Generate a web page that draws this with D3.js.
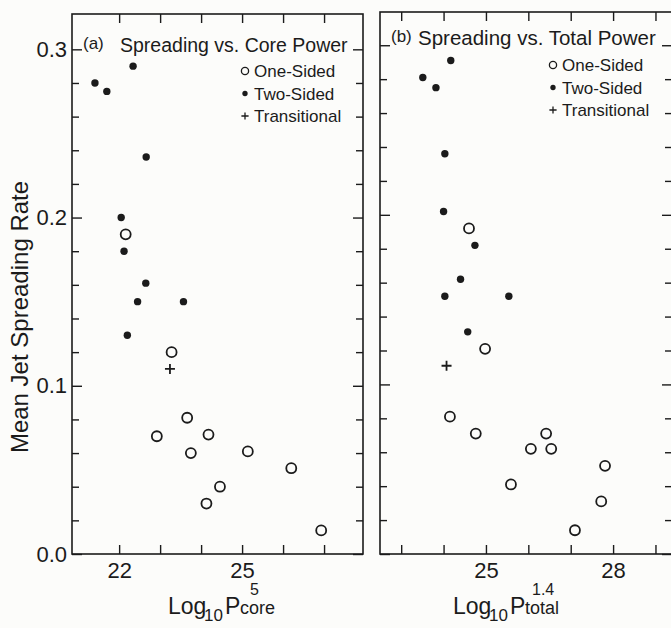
<!DOCTYPE html>
<html>
<head>
<meta charset="utf-8">
<script src="https://cdn.jsdelivr.net/npm/d3@7"></script>
<style>
  html, body { margin: 0; padding: 0; background: #fcfcfa; }
  svg { display: block; font-family: 'Liberation Sans', Arial, sans-serif; }
</style>
</head>
<body>
<div id="chart"></div>
<script>
// -----------------------------------------------------------------------------
// Mean jet spreading rate vs log power (two panels)
//  (a) vs core power   (b) vs total power
//  marker = jet type: one-sided (o), two-sided (•), transitional (+)
// -----------------------------------------------------------------------------

// datos: [log10 P, spreading rate]
const coreOneSided = [
  [22.16, 0.190], [23.28, 0.120], [22.92, 0.070], [23.66, 0.081],
  [23.75, 0.060], [24.18, 0.071], [24.13, 0.030], [24.46, 0.040],
  [25.14, 0.061], [26.20, 0.051], [26.93, 0.014]
];
const coreTwoSided = [
  [21.41, 0.280], [21.70, 0.275], [22.34, 0.290], [22.66, 0.236],
  [22.05, 0.200], [22.12, 0.180], [22.65, 0.161], [22.45, 0.150],
  [23.57, 0.150], [22.20, 0.130]
];
const coreTransitional = [[23.24, 0.110]];

const totalOneSided = [
  [24.60, 0.192], [24.98, 0.121], [24.15, 0.081], [24.76, 0.071],
  [26.06, 0.062], [26.42, 0.071], [26.54, 0.062], [25.59, 0.041],
  [27.81, 0.052], [27.72, 0.031], [27.10, 0.014]
];
const totalTwoSided = [
  [23.51, 0.281], [23.82, 0.275], [24.17, 0.291], [24.03, 0.236],
  [24.00, 0.202], [24.74, 0.182], [24.40, 0.162], [24.03, 0.152],
  [25.54, 0.152], [24.57, 0.131]
];
const totalTransitional = [[24.07, 0.111]];

// ticks
const yMajorTicks  = [0, 0.1, 0.2, 0.3];
const yTickLabels  = ['0.0', '0.1', '0.2', '0.3'];
const yMinorTicks  = [0.02, 0.04, 0.06, 0.08, 0.12, 0.14, 0.16, 0.18, 0.22, 0.24, 0.26, 0.28];
const coreTicks    = [22, 23, 24, 25, 26, 27];
const coreLabels   = [22, 25];
const totalTicks   = [23, 24, 25, 26, 27, 28, 29];
const totalLabels  = [25, 28];
const legendLabels = ['One-Sided', 'Two-Sided', 'Transitional'];

const W = 671, H = 628;
const ink = '#1b1b1b';

const svg = d3.select('#chart')
  .append('svg')
    .attr('width', W)
    .attr('height', H);

svg.append('rect')
  .attr('width', W).attr('height', H)
  .attr('fill', '#fcfcfa');

// marcadores
function drawMarkers(g, pts, kind, x, y, s = 1) {
  if (kind === 'one') {
    g.selectAll(null).data(pts).join('circle')
      .attr('cx', d => x(d[0])).attr('cy', d => y(d[1]))
      .attr('r', 5 * s)
      .attr('fill', 'none').attr('stroke', ink).attr('stroke-width', 1.8 * s);
  } else if (kind === 'two') {
    g.selectAll(null).data(pts).join('circle')
      .attr('cx', d => x(d[0])).attr('cy', d => y(d[1]))
      .attr('r', 3.7 * s)
      .attr('fill', ink);
  } else {
    const a = 5 * s;
    g.selectAll(null).data(pts).join('path')
      .attr('d', d => {
        const cx = x(d[0]), cy = y(d[1]);
        return `M${cx - a},${cy}H${cx + a}M${cx},${cy - a}V${cy + a}`;
      })
      .attr('stroke', ink).attr('stroke-width', 1.8 * s).attr('fill', 'none');
  }
}

function styleAxis(g) {
  g.select('.domain').remove();
  g.selectAll('.tick line').attr('stroke', ink).attr('stroke-width', 1.4);
  g.selectAll('.tick text').attr('fill', ink);
  g.attr('font-family', null).attr('font-size', 22);
}

function drawPanel(p) {
  const x = d3.scaleLinear().domain(p.xDomain).range([p.left, p.right]);
  const y = d3.scaleLinear().domain(p.yDomain).range([p.bottom, p.top]);
  const g = svg.append('g');

  // eje inferior con etiquetas
  g.append('g')
      .attr('transform', `translate(0,${p.bottom})`)
      .call(d3.axisBottom(x).tickValues(p.xTicks).tickSize(-9).tickSizeOuter(0)
        .tickPadding(8)
        .tickFormat(d => p.xLabels.includes(d) ? d : ''))
      .call(styleAxis);

  // eje superior (solo marcas)
  g.append('g')
      .attr('transform', `translate(0,${p.top})`)
      .call(d3.axisTop(x).tickValues(p.xTicks).tickSize(-9).tickSizeOuter(0).tickFormat(''))
      .call(styleAxis);

  // ejes verticales: menores y mayores, izquierda y derecha
  [['L', p.left, d3.axisLeft], ['R', p.right, d3.axisRight]].forEach(([side, px, ax]) => {
    g.append('g')
        .attr('transform', `translate(${px},0)`)
        .call(ax(y).tickValues(yMinorTicks).tickSize(-7).tickSizeOuter(0).tickFormat(''))
        .call(styleAxis);
    const showLab = side === 'L' && p.yLabels;
    g.append('g')
        .attr('transform', `translate(${px},0)`)
        .call(ax(y).tickValues(yMajorTicks).tickSize(-10).tickSizeOuter(0)
          .tickPadding(5)
          .tickFormat((d, i) => showLab ? yTickLabels[i] : ''))
        .call(styleAxis);
  });

  // marco
  g.append('rect')
    .attr('x', p.left).attr('y', p.top)
    .attr('width', p.right - p.left).attr('height', p.bottom - p.top)
    .attr('fill', 'none').attr('stroke', ink).attr('stroke-width', 1.6);

  // puntos
  const m = g.append('g');
  drawMarkers(m, p.one, 'one', x, y);
  drawMarkers(m, p.two, 'two', x, y);
  drawMarkers(m, p.trans, 'trans', x, y);

  // título del panel
  g.append('text')
    .attr('x', p.tagX).attr('y', p.titleY - 3)
    .attr('font-size', 17).attr('fill', ink)
    .text(p.tag);
  g.append('text')
    .attr('x', p.titleX).attr('y', p.titleY)
    .attr('font-size', p.titleSize).attr('fill', ink)
    .text(p.title);

  // leyenda
  const kinds = ['one', 'two', 'trans'];
  kinds.forEach((k, i) => {
    const ly = p.legY + i * 22.5;
    drawMarkers(g, [[0, 0]], k, () => p.legX, () => ly, 0.72);
    g.append('text')
      .attr('x', p.legX + 9).attr('y', ly + 6)
      .attr('font-size', 17).attr('fill', ink)
      .text(legendLabels[i]);
  });

  // etiqueta del eje x: Log10 P^sup_sub
  const t = p.xTitle;
  const lab = g.append('g').attr('fill', ink);
  lab.append('text').attr('x', t.x).attr('y', 614).attr('font-size', 23).text('Log');
  lab.append('text').attr('x', t.x + 36).attr('y', 621).attr('font-size', 17).text('10');
  lab.append('text').attr('x', t.x + 57).attr('y', 614).attr('font-size', 23).text('P');
  lab.append('text').attr('x', t.x + t.supDx).attr('y', 595).attr('font-size', 16).text(t.sup);
  lab.append('text').attr('x', t.x + 72).attr('y', 614).attr('font-size', 18).text(t.sub);
}

drawPanel({
  left: 72, right: 363, top: 14, bottom: 554,
  xDomain: [20.85, 27.95], yDomain: [0, 0.321],
  xTicks: coreTicks, xLabels: coreLabels, yLabels: true,
  one: coreOneSided, two: coreTwoSided, trans: coreTransitional,
  tag: '(a)', tagX: 83, titleX: 120, titleY: 52, titleSize: 19.5,
  title: 'Spreading vs. Core Power',
  legX: 245, legY: 71,
  xTitle: { x: 168, sup: '5', sub: 'core', supDx: 82 }
});

drawPanel({
  left: 380, right: 672, top: 12, bottom: 554,
  xDomain: [22.5, 29.39], yDomain: [0, 0.3196],
  xTicks: totalTicks, xLabels: totalLabels, yLabels: false,
  one: totalOneSided, two: totalTwoSided, trans: totalTransitional,
  tag: '(b)', tagX: 391, titleX: 418, titleY: 45, titleSize: 20.5,
  title: 'Spreading vs. Total Power',
  legX: 553, legY: 65,
  xTitle: { x: 453, sup: '1.4', sub: 'total', supDx: 79 }
});

// etiqueta del eje y
svg.append('text')
  .attr('transform', 'translate(28,317) rotate(-90)')
  .attr('text-anchor', 'middle')
  .attr('font-size', 24)
  .attr('fill', ink)
  .text('Mean Jet Spreading Rate');
</script>
</body>
</html>
